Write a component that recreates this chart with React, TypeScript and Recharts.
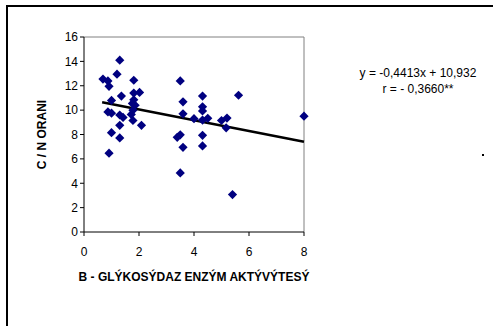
import { ScatterChart, Scatter, XAxis, YAxis, ReferenceLine } from 'recharts';

// activity (x) and C/N ratio (y)
const activity = [
  0.69, 0.87, 0.91, 1.2, 1.3, 1.81, 1.36, 1.81, 2.02, 1.0, 1.81, 1.76, 1.86, 0.87, 1.0, 1.3,
  1.42, 1.72, 1.78, 1.78, 1.3, 2.09, 1.0, 1.3, 0.91, 3.5, 3.6, 3.6, 3.39, 3.5, 3.6, 3.5,
  4.0, 4.31, 4.31, 4.31, 4.31, 4.5, 4.31, 4.31, 5.0, 5.2, 5.17, 5.4, 5.62, 8.0,
];
const cnRatio = [
  12.55, 12.4, 11.95, 12.95, 14.1, 12.45, 11.15, 11.4, 11.45, 10.8, 10.85, 10.55, 10.4, 9.85, 9.75, 9.6,
  9.4, 9.65, 10.0, 9.15, 8.75, 8.75, 8.15, 7.72, 6.47, 12.4, 10.68, 9.7, 7.77, 7.97, 6.95, 4.85,
  9.3, 11.15, 10.27, 9.93, 9.18, 9.33, 7.93, 7.06, 9.15, 9.35, 8.55, 3.07, 11.22, 9.5,
];

// trend line ends
const trendX = [0.66, 8];
const trendY = [10.64, 7.4];

const xTicks = [0, 2, 4, 6, 8];
const yTicks = [0, 2, 4, 6, 8, 10, 12, 14, 16];

const points = activity.map((x, i) => ({ x, y: cnRatio[i] }));
const trend = trendX.map((x, i) => ({ x, y: trendY[i] }));

const font = '"Liberation Sans", Arial, sans-serif';

const Diamond = (props: any) => {
  const { cx, cy } = props;
  const r = 4.6;
  return (
    <polygon
      points={`${cx},${cy - r} ${cx + r},${cy} ${cx},${cy + r} ${cx - r},${cy}`}
      fill="#000080"
    />
  );
};

export default function App() {
  return (
    <div style={{ position: 'absolute', left: 0, top: 0, width: 496, height: 326, background: '#fff', fontFamily: font, overflow: 'hidden' }}>
      <ScatterChart width={496} height={326} margin={{ top: 37, right: 192, bottom: 64, left: 54 }}>
        <XAxis
          type="number"
          dataKey="x"
          domain={[0, 8]}
          ticks={xTicks}
          height={30}
          tickSize={4}
          tickMargin={11}
          stroke="#000"
          tick={{ fill: '#000', fontSize: 12, fontFamily: font }}
          label={{ value: 'B - GLÝKOSÝDAZ ENZÝM AKTÝVÝTESÝ', position: 'bottom', offset: 10, style: { fontSize: 12, fontWeight: 'bold', fill: '#000', fontFamily: font } }}
        />
        <YAxis
          type="number"
          dataKey="y"
          domain={[0, 16]}
          ticks={yTicks}
          width={30}
          tickSize={4}
          stroke="#000"
          tick={{ fill: '#000', fontSize: 12, fontFamily: font }}
          label={{ value: 'C / N ORANI', angle: -90, position: 'left', offset: 12, style: { fontSize: 12, fontWeight: 'bold', fill: '#000', fontFamily: font, textAnchor: 'middle' } }}
        />
        <ReferenceLine y={16} stroke="#808080" />
        <ReferenceLine x={8} stroke="#808080" />
        <Scatter data={trend} line={{ stroke: '#000', strokeWidth: 2.5 }} shape={() => <g />} isAnimationActive={false} />
        <Scatter data={points} shape={Diamond} isAnimationActive={false} />
      </ScatterChart>
      <div style={{ position: 'absolute', left: 338, width: 160, top: 65, textAlign: 'center', fontSize: 12, lineHeight: '16px', color: '#000' }}>
        y = -0,4413x + 10,932
        <br />r = - 0,3660**
      </div>
      <div style={{ position: 'absolute', left: 482, top: 154, width: 2, height: 2, background: '#000' }} />
      <div style={{ position: 'absolute', left: 6, top: 5, width: 487, height: 321, boxSizing: 'border-box', borderLeft: '2px solid #000', borderTop: '2px solid #000', pointerEvents: 'none' }} />
    </div>
  );
}
